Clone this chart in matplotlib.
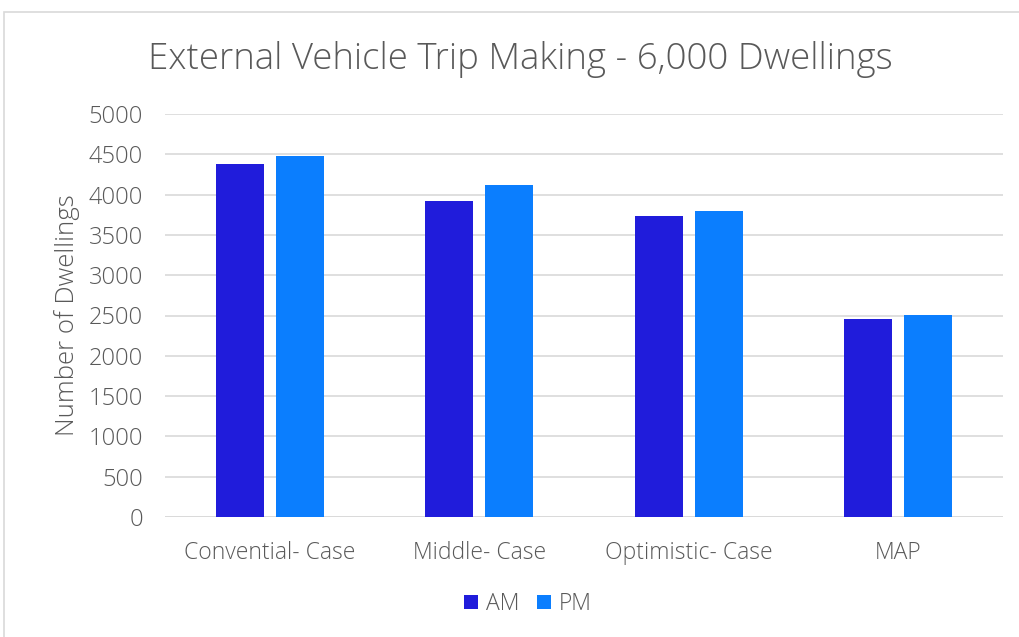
import matplotlib
matplotlib.use("Agg")
import matplotlib.pyplot as plt
import numpy as np
from matplotlib.patches import Rectangle

categories = ["Convential- Case", "Middle- Case", "Optimistic- Case", "MAP"]
am_values = [4385, 3922, 3732, 2459]
pm_values = [4479, 4124, 3801, 2504]
series_names = ["AM", "PM"]
yticks = [0, 500, 1000, 1500, 2000, 2500, 3000, 3500, 4000, 4500, 5000]

plt.rcParams['font.family'] = ['Open Sans', 'DejaVu Sans']
txt = "#595959"
c_am = "#201CDB"
c_pm = "#0B7EFE"
fw = 'light'

fig = plt.figure(figsize=(10.19, 6.37), dpi=100)
fig.patches.append(Rectangle((4/1019, -0.1), 1.2, 1 - 12/637 + 0.1, transform=fig.transFigure,
                             fill=False, edgecolor="#D9D9D9", linewidth=1.2, zorder=0))
ax = fig.add_axes([165/1019, 1 - 517/637, (1003 - 165)/1019, (517 - 114)/637])

x = np.arange(len(categories))
bw = 0.229
off = 0.1435
ax.bar(x - off, am_values, bw, color=c_am, label=series_names[0], zorder=3)
ax.bar(x + off, pm_values, bw, color=c_pm, label=series_names[1], zorder=3)

ax.set_xlim(-0.5, 3.5)
ax.set_ylim(0, 5000)
ax.set_yticks(yticks)
ax.set_yticklabels([str(v) for v in yticks], fontsize=17, color=txt, fontweight=fw)
ax.set_xticks(x)
ax.set_xticklabels(categories, fontsize=16.5, color=txt, fontweight=fw)
ax.tick_params(axis='y', length=0, pad=16)
ax.tick_params(axis='x', length=0, pad=17)
ax.grid(axis='y', color="#D9D9D9", linewidth=1.2, zorder=0)
for s in ax.spines.values():
    s.set_visible(False)
ax.axhline(0, color="#D9D9D9", linewidth=1.2, zorder=1)

ax.set_ylabel("Number of Dwellings", fontsize=18.5, color=txt, fontweight=fw, labelpad=6)
fig.text(520/1019, 1 - 60/637, "External Vehicle Trip Making - 6,000 Dwellings",
         ha='center', va='center', fontsize=26.4, color=txt, fontweight=fw)

leg = fig.legend(loc='center', bbox_to_anchor=(528/1019, 1 - 604/637), ncol=2, frameon=False,
                 fontsize=16.5, handlelength=0.6, handleheight=0.6, handletextpad=0.35,
                 columnspacing=0.8)
for t in leg.get_texts():
    t.set_color(txt)
    t.set_fontweight(fw)

fig.savefig("out.png", dpi=100, facecolor="white")
